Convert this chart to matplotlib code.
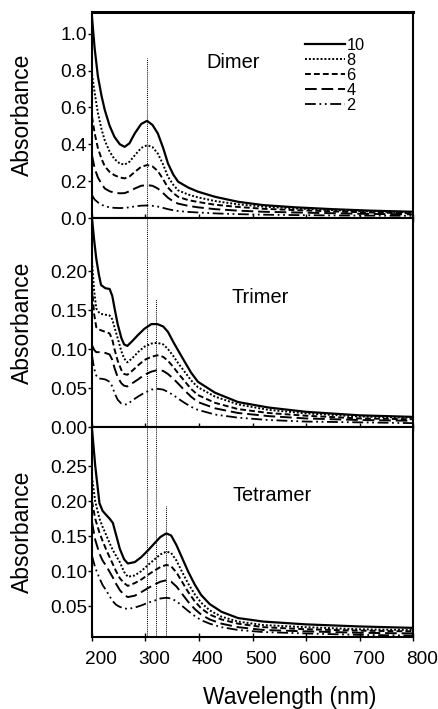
import numpy as np
import matplotlib
matplotlib.use('Agg')
import matplotlib.pyplot as plt
import matplotlib.transforms as mtransforms

plt.rcParams['font.family'] = ['Liberation Sans', 'DejaVu Sans']

### DATA
labels = ['10', '8', '6', '4', '2']

# Dimer
wl_di = [200, 205, 211, 218, 224, 233, 242, 252, 261, 270, 280, 292, 303, 313,
         323, 333, 342, 352, 361, 380, 398, 430, 473, 520, 580, 650, 720, 800]
di_10 = [1.09, 0.92, 0.77, 0.66, 0.585, 0.50, 0.44, 0.40, 0.386, 0.405, 0.459, 0.51, 0.527, 0.505,
         0.459, 0.38, 0.296, 0.235, 0.197, 0.165, 0.143, 0.115, 0.088, 0.070, 0.058, 0.048, 0.040, 0.034]
di_8 = [0.78, 0.68, 0.57, 0.48, 0.42, 0.36, 0.32, 0.295, 0.29, 0.305, 0.34, 0.38, 0.395, 0.385,
        0.35, 0.29, 0.224, 0.18, 0.15, 0.127, 0.112, 0.092, 0.074, 0.062, 0.052, 0.043, 0.036, 0.030]
di_6 = [0.55, 0.46, 0.38, 0.32, 0.28, 0.25, 0.232, 0.22, 0.215, 0.225, 0.25, 0.278, 0.287, 0.28,
        0.255, 0.21, 0.165, 0.135, 0.115, 0.097, 0.087, 0.072, 0.060, 0.050, 0.043, 0.036, 0.030, 0.026]
di_4 = [0.34, 0.27, 0.22, 0.185, 0.16, 0.145, 0.137, 0.134, 0.135, 0.145, 0.16, 0.175, 0.178, 0.175,
        0.16, 0.135, 0.11, 0.09, 0.078, 0.066, 0.058, 0.048, 0.040, 0.034, 0.030, 0.026, 0.022, 0.020]
di_2 = [0.125, 0.10, 0.085, 0.072, 0.064, 0.058, 0.055, 0.054, 0.055, 0.058, 0.063, 0.067, 0.068, 0.066,
        0.062, 0.055, 0.048, 0.042, 0.038, 0.033, 0.030, 0.025, 0.021, 0.018, 0.016, 0.014, 0.013, 0.012]

# Trimer
wl_tri = [200, 204, 208, 213, 217, 225, 233, 238, 242, 248, 255, 260, 266, 275, 286, 298,
          311, 322, 333, 342, 352, 362, 373, 385, 398, 430, 473, 530, 600, 700, 800]
tri_10 = [0.268, 0.24, 0.216, 0.195, 0.182, 0.178, 0.177, 0.168, 0.153, 0.132, 0.114, 0.106, 0.104, 0.11, 0.118, 0.126,
          0.132, 0.132, 0.129, 0.122, 0.109, 0.097, 0.084, 0.07, 0.058, 0.044, 0.032, 0.025, 0.0195, 0.015, 0.013]
tri_8 = [0.212, 0.175, 0.152, 0.147, 0.145, 0.144, 0.143, 0.138, 0.128, 0.114, 0.097, 0.088, 0.083, 0.088, 0.096, 0.103,
         0.107, 0.108, 0.106, 0.1, 0.091, 0.081, 0.071, 0.06, 0.051, 0.039, 0.029, 0.022, 0.0175, 0.0135, 0.012]
tri_6 = [0.18, 0.145, 0.128, 0.125, 0.124, 0.122, 0.12, 0.112, 0.1, 0.085, 0.073, 0.068, 0.067, 0.072, 0.079, 0.086,
         0.09, 0.092, 0.09, 0.085, 0.077, 0.068, 0.059, 0.049, 0.041, 0.031, 0.023, 0.018, 0.0145, 0.011, 0.010]
tri_4 = [0.105, 0.099, 0.096, 0.096, 0.096, 0.095, 0.093, 0.086, 0.076, 0.064, 0.056, 0.053, 0.052, 0.056, 0.061, 0.067,
         0.071, 0.073, 0.072, 0.068, 0.062, 0.055, 0.047, 0.039, 0.032, 0.024, 0.018, 0.014, 0.011, 0.009, 0.008]
tri_2 = [0.092, 0.075, 0.066, 0.062, 0.062, 0.061, 0.058, 0.052, 0.044, 0.035, 0.03, 0.029, 0.029, 0.034, 0.039, 0.044,
         0.048, 0.049, 0.048, 0.045, 0.041, 0.036, 0.031, 0.026, 0.022, 0.016, 0.012, 0.009, 0.007, 0.006, 0.005]

# Tetramer
wl_tet = [200, 206, 214, 220, 227, 233, 239, 245, 252, 260, 267, 280, 292, 305, 317,
          328, 339, 348, 358, 369, 380, 392, 404, 420, 442, 473, 520, 600, 700, 800]
tet_10 = [0.304, 0.251, 0.197, 0.186, 0.18, 0.175, 0.169, 0.152, 0.132, 0.117, 0.111, 0.113, 0.12, 0.13, 0.14,
          0.149, 0.154, 0.151, 0.137, 0.118, 0.099, 0.081, 0.066, 0.053, 0.042, 0.033, 0.028, 0.024, 0.021, 0.019]
tet_8 = [0.235, 0.2, 0.175, 0.163, 0.151, 0.14, 0.13, 0.122, 0.113, 0.099, 0.092, 0.094, 0.1, 0.109, 0.117,
         0.124, 0.128, 0.126, 0.115, 0.098, 0.082, 0.067, 0.055, 0.044, 0.035, 0.028, 0.023, 0.020, 0.017, 0.016]
tet_6 = [0.2, 0.175, 0.155, 0.143, 0.13, 0.12, 0.11, 0.1, 0.09, 0.083, 0.079, 0.083, 0.088, 0.095, 0.101,
         0.106, 0.109, 0.107, 0.098, 0.084, 0.07, 0.057, 0.047, 0.038, 0.031, 0.025, 0.02, 0.017, 0.015, 0.014]
tet_4 = [0.17, 0.145, 0.125, 0.115, 0.107, 0.099, 0.091, 0.082, 0.073, 0.066, 0.063, 0.065, 0.07, 0.076, 0.081,
         0.085, 0.087, 0.085, 0.078, 0.067, 0.056, 0.046, 0.038, 0.031, 0.025, 0.02, 0.016, 0.014, 0.012, 0.011]
tet_2 = [0.122, 0.105, 0.09, 0.08, 0.072, 0.064, 0.057, 0.052, 0.049, 0.047, 0.046, 0.048, 0.051, 0.055, 0.058,
         0.061, 0.062, 0.061, 0.057, 0.05, 0.043, 0.036, 0.03, 0.025, 0.02, 0.016, 0.013, 0.011, 0.009, 0.008]

# peak markers (nm) and where each dotted line starts (absorbance in its own panel)
peak_nm  = [302, 319, 338]
peak_top = [0.867, 0.164, 0.193]

names   = ['Dimer', 'Trimer', 'Tetramer']
yticks  = [[0.0, 0.2, 0.4, 0.6, 0.8, 1.0],
           [0.00, 0.05, 0.10, 0.15, 0.20],
           [0.05, 0.10, 0.15, 0.20, 0.25]]
yfmt    = ['%.1f', '%.2f', '%.2f']
ylims   = [(0, 1.117), (0, 0.268), (0.006, 0.306)]
xticks  = [200, 300, 400, 500, 600, 700, 800]

panels = [(wl_di,  [di_10, di_8, di_6, di_4, di_2]),
          (wl_tri, [tri_10, tri_8, tri_6, tri_4, tri_2]),
          (wl_tet, [tet_10, tet_8, tet_6, tet_4, tet_2])]

styles = ['-', (0, (1, 1)), (0, (3, 1.6)), (0, (6, 2.5)), (0, (6, 2, 1, 2, 1, 2))]
widths = [1.6, 1.4, 1.4, 1.4, 1.3]

### PLOT
fig = plt.figure(figsize=(4.38, 7.09), dpi=100)
rects = [[0.210, 0.6925, 0.733, 0.2905],
         [0.210, 0.3977, 0.733, 0.2948],
         [0.210, 0.1016, 0.733, 0.2961]]
axes = [fig.add_axes(r) for r in rects]
title_pos = [(0.44, 0.757), (0.523, 0.622), (0.561, 0.676)]

for i, ax in enumerate(axes):
    wl, series = panels[i]
    for s, ls, lw, lab in zip(series, styles, widths, labels):
        ax.plot(wl, s, color='black', linestyle=ls, linewidth=lw, label=lab)
    ax.set_xlim(200, 800)
    ax.set_ylim(*ylims[i])
    ax.set_yticks(yticks[i])
    ax.set_yticklabels([yfmt[i] % v for v in yticks[i]])
    ax.set_xticks(xticks)
    ax.tick_params(axis='y', direction='out', length=3, width=1, pad=0.5, labelsize=13.7)
    ax.tick_params(axis='x', direction='inout', length=6, width=1, labelsize=13.7, pad=7)
    if i < 2:
        ax.tick_params(axis='x', labelbottom=False)
    for sp in ax.spines.values():
        sp.set_linewidth(1.5)
    ax.set_ylabel('Absorbance', fontsize=16.5)
    ax.yaxis.set_label_coords(-0.18, 0.5)
    ax.text(title_pos[i][0], title_pos[i][1], names[i], transform=ax.transAxes,
            ha='center', va='center', fontsize=14.4)

axes[0].spines['top'].set_linewidth(2.2)

# dotted peak lines, each running down through the panels below
for i, (nm, top) in enumerate(zip(peak_nm, peak_top)):
    axes[i].plot([nm, nm], [ylims[i][0], top], color='black', linestyle=(0, (1, 1)), linewidth=0.7)
    for ax in axes[i + 1:]:
        ax.axvline(nm, color='black', linestyle=(0, (1, 1)), linewidth=0.7)

axes[2].set_xlabel('Wavelength (nm)', fontsize=16.5)
axes[2].xaxis.set_label_coords(0.617, -0.233)

# tick labels in the original sit a bit right of their ticks
offset = mtransforms.ScaledTranslation(9 / 100, 0, fig.dpi_scale_trans)
for lab in axes[2].get_xticklabels():
    lab.set_transform(lab.get_transform() + offset)

axes[0].legend(loc='upper left', bbox_to_anchor=(0.665, 0.875), frameon=False,
               fontsize=11.8, handlelength=2.4, handletextpad=0.1,
               labelspacing=0.0, borderpad=0, borderaxespad=0)

fig.savefig('out.png', dpi=100)
